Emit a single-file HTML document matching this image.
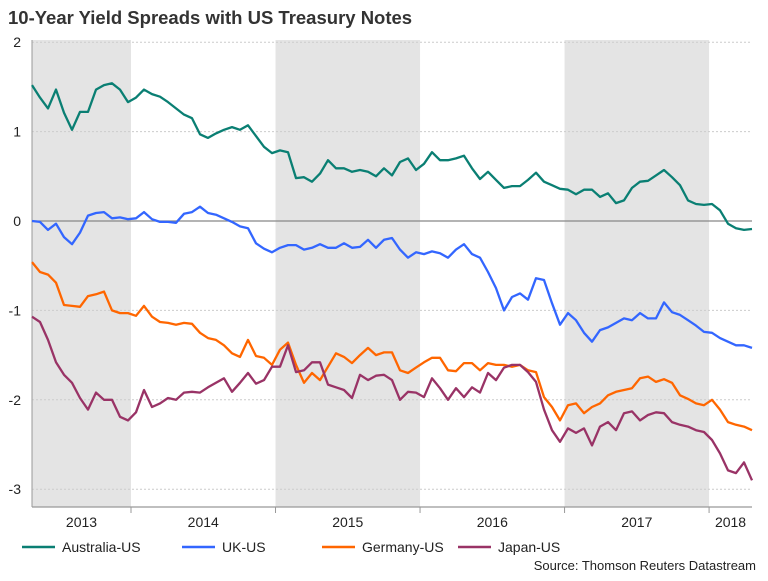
<!DOCTYPE html>
<html><head><meta charset="utf-8"><style>
body{margin:0;background:#fff;font-family:"Liberation Sans",sans-serif}
svg text{font-family:"Liberation Sans",sans-serif}
</style></head><body>
<svg id="chart" width="768" height="576" viewBox="0 0 768 576" xmlns="http://www.w3.org/2000/svg">
<text x="8" y="24" font-size="18.5" font-weight="bold" fill="#333">10-Year Yield Spreads with US Treasury Notes</text>
<g id="plot"></g>
<g>
<line x1="22" y1="547" x2="55" y2="547" stroke="#0a7f73" stroke-width="2.5"/>
<text x="62" y="552" font-size="14" fill="#222">Australia-US</text>
<line x1="182" y1="547" x2="215" y2="547" stroke="#3366ff" stroke-width="2.5"/>
<text x="222" y="552" font-size="14" fill="#222">UK-US</text>
<line x1="322" y1="547" x2="355" y2="547" stroke="#ff6600" stroke-width="2.5"/>
<text x="362" y="552" font-size="14" fill="#222">Germany-US</text>
<line x1="458" y1="547" x2="491" y2="547" stroke="#993366" stroke-width="2.5"/>
<text x="498" y="552" font-size="14" fill="#222">Japan-US</text>
</g>
<text x="756" y="570" font-size="13" fill="#222" text-anchor="end">Source: Thomson Reuters Datastream</text>
</svg>
<script>
const yTicks = [2, 1, 0, -1, -2, -3];
const yearBounds = [2014, 2015, 2016, 2017, 2018];
const yearLabels = ['2013', '2014', '2015', '2016', '2017', '2018'];
const shadedYears = [[2013.315, 2014], [2015, 2016], [2017, 2018]];
const tStart = 2013.315, tEnd = 2018.297;
const australia = [1.52,1.38,1.26,1.47,1.21,1.02,1.22,1.22,1.47,1.52,1.54,1.47,1.33,1.38,1.47,1.42,1.39,1.33,1.26,1.19,1.15,0.97,0.93,0.98,1.02,1.05,1.02,1.07,0.95,0.83,0.76,
0.79,0.77,0.48,0.49,0.44,0.53,0.68,0.59,0.59,0.55,0.57,0.55,0.50,0.59,0.51,0.66,0.70,0.57,0.64,0.77,0.68,0.68,0.70,0.73,0.59,0.47,0.55,0.46,0.37,0.39,
0.39,0.46,0.54,0.44,0.40,0.36,0.35,0.30,0.35,0.35,0.27,0.31,0.20,0.23,0.37,0.44,0.45,0.51,0.57,0.49,0.40,0.23,0.19,0.18,0.19,0.12,-0.03,-0.08,-0.10,-0.09];
const uk = [0,-0.01,-0.10,-0.03,-0.18,-0.26,-0.13,0.06,0.09,0.10,0.03,0.04,0.02,0.03,0.10,0.02,-0.01,-0.01,-0.02,0.08,0.10,0.16,0.09,0.07,0.03,-0.01,-0.06,-0.08,-0.25,-0.31,-0.35,
-0.30,-0.27,-0.27,-0.32,-0.30,-0.26,-0.30,-0.30,-0.25,-0.30,-0.29,-0.21,-0.30,-0.21,-0.19,-0.32,-0.41,-0.35,-0.37,-0.34,-0.36,-0.41,-0.32,-0.26,-0.37,-0.41,-0.57,-0.75,-1.00,-0.85,
-0.81,-0.88,-0.64,-0.66,-0.92,-1.16,-1.03,-1.11,-1.25,-1.35,-1.22,-1.19,-1.14,-1.09,-1.11,-1.03,-1.09,-1.09,-0.91,-1.02,-1.05,-1.11,-1.17,-1.24,-1.25,-1.31,-1.35,-1.39,-1.39,-1.42];
const germany = [-0.46,-0.57,-0.60,-0.69,-0.94,-0.95,-0.96,-0.84,-0.82,-0.79,-1.00,-1.03,-1.03,-1.06,-0.95,-1.07,-1.13,-1.14,-1.16,-1.14,-1.15,-1.25,-1.31,-1.33,-1.39,-1.48,-1.52,-1.33,-1.51,-1.53,-1.61,
-1.44,-1.36,-1.61,-1.81,-1.70,-1.78,-1.63,-1.48,-1.52,-1.59,-1.50,-1.42,-1.50,-1.47,-1.47,-1.67,-1.70,-1.64,-1.58,-1.53,-1.53,-1.67,-1.68,-1.59,-1.59,-1.67,-1.59,-1.61,-1.61,-1.63,
-1.61,-1.67,-1.69,-1.97,-2.08,-2.23,-2.06,-2.04,-2.15,-2.08,-2.04,-1.95,-1.91,-1.89,-1.87,-1.76,-1.74,-1.80,-1.77,-1.81,-1.95,-1.99,-2.04,-2.06,-2.00,-2.11,-2.25,-2.28,-2.30,-2.34];
const japan = [-1.07,-1.13,-1.33,-1.58,-1.72,-1.81,-1.98,-2.11,-1.92,-2.00,-2.00,-2.19,-2.23,-2.14,-1.89,-2.08,-2.04,-1.98,-2.00,-1.92,-1.91,-1.92,-1.86,-1.81,-1.76,-1.91,-1.81,-1.70,-1.82,-1.78,-1.63,
-1.63,-1.39,-1.69,-1.67,-1.58,-1.58,-1.83,-1.86,-1.89,-1.98,-1.72,-1.78,-1.73,-1.72,-1.78,-2.00,-1.91,-1.92,-1.97,-1.76,-1.87,-2.00,-1.87,-1.97,-1.86,-1.92,-1.70,-1.78,-1.64,-1.61,
-1.61,-1.69,-1.80,-2.11,-2.34,-2.47,-2.32,-2.37,-2.32,-2.51,-2.30,-2.25,-2.34,-2.15,-2.13,-2.23,-2.17,-2.14,-2.15,-2.25,-2.28,-2.30,-2.34,-2.36,-2.45,-2.60,-2.79,-2.82,-2.70,-2.90];
const seriesNames = ['australia', 'uk', 'germany', 'japan'];
const seriesColors = ['#0a7f73', '#3366ff', '#ff6600', '#993366'];

const X0 = 32, X1 = 752, PT = 40, PB = 507;
const xScale = t => X0 + (t - tStart) / (tEnd - tStart) * (X1 - X0);
const yScale = v => 221 - v * 89.4;
const NS = 'http://www.w3.org/2000/svg';
const plot = document.getElementById('plot');
function mk(tag, attrs, parent) {
  const e = document.createElementNS(NS, tag);
  for (const k in attrs) e.setAttribute(k, attrs[k]);
  (parent || plot).appendChild(e);
  return e;
}
shadedYears.forEach(([a, b]) => {
  const r = mk('rect', {x: xScale(a), y: PT, width: xScale(b) - xScale(a), height: PB - PT, fill: '#e4e4e4'});
  
  
});
yTicks.forEach(v => {
  const y = yScale(v);
  const g = mk('line', v === 0 ? {x1: X0, x2: X1, y1: y, y2: y, stroke: '#888', 'stroke-width': 1.2}
    : {x1: X0, x2: X1, y1: y, y2: y, stroke: '#ccc', 'stroke-width': 1, 'stroke-dasharray': '2,2'});
  
  
  const t = mk('text', {x: 21, y: y + 5, 'font-size': 14, fill: '#222', 'text-anchor': 'end'});
  t.textContent = String(v);
  
  
});
const ax = mk('line', {x1: X0, x2: X0, y1: PT, y2: PB, stroke: '#999', 'stroke-width': 1});


const bx = mk('line', {x1: X0, x2: X1, y1: PB, y2: PB, stroke: '#999', 'stroke-width': 1.2});


yearBounds.forEach(t => {
  const l = mk('line', {x1: xScale(t), x2: xScale(t), y1: PB, y2: PB + 6, stroke: '#999'});
  
  
});
const edges = [tStart].concat(yearBounds, [tEnd]);
yearLabels.forEach((lab, i) => {
  const cx = (xScale(edges[i]) + xScale(edges[i + 1])) / 2;
  const t = mk('text', {x: cx, y: 527, 'font-size': 14, fill: '#222', 'text-anchor': 'middle'});
  t.textContent = lab;
  
  
});
[australia, uk, germany, japan].forEach((s, k) => {
  const n = s.length;
  const d = s.map((v, i) => (i ? 'L' : 'M') + xScale(tStart + (tEnd - tStart) * i / (n - 1)).toFixed(1) + ',' + yScale(v).toFixed(1)).join('');
  const p = mk('path', {d: d, fill: 'none', stroke: seriesColors[k], 'stroke-width': 2.3, 'stroke-linejoin': 'round'});
  
  
});
</script>
</body></html>
